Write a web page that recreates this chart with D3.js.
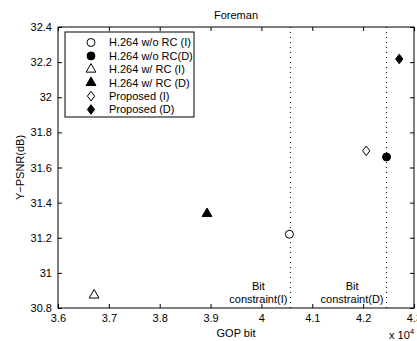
<!DOCTYPE html>
<html>
<head>
<script src="https://d3js.org/d3.v7.min.js"></script>
<style>
  body { margin: 0; background: #fff; }
  text { font-family: "Liberation Sans", Arial, sans-serif; fill: #000; }
</style>
</head>
<body>
<div id="chart"></div>
<script>
// series (x in units of 10^4 bits)
const seriesNames = ["H.264 w/o RC (I)", "H.264 w/o RC(D)", "H.264 w/ RC (I)", "H.264 w/ RC (D)", "Proposed (I)", "Proposed (D)"];
const gopBits = [4.055, 4.246, 3.671, 3.893, 4.206, 4.271];
const psnr = [31.22, 31.66, 30.873, 31.337, 31.695, 32.218];
const shapes = ["circle", "circle", "triangle", "triangle", "diamond", "diamond"];
const filled = [false, true, false, true, false, true];

const constraintX = [4.057, 4.246];
const constraintLabels = ["constraint(I)", "constraint(D)"];

const xTicks = [3.6, 3.7, 3.8, 3.9, 4.0, 4.1, 4.2, 4.3];
const yTicks = [30.8, 31, 31.2, 31.4, 31.6, 31.8, 32, 32.2, 32.4];

const W = 417, H = 341;
const margin = { top: 27, right: 3, bottom: 33, left: 58 };
const width = W - margin.left - margin.right,
      height = H - margin.top - margin.bottom;

const svg = d3.select("#chart").append("svg")
  .attr("width", W).attr("height", H);

const g = svg.append("g")
  .attr("transform", "translate(" + margin.left + "," + margin.top + ")");

const x = d3.scaleLinear().domain([3.6, 4.3]).range([0, width]);
const y = d3.scaleLinear().domain([30.8, 32.4]).range([height, 0]);

const fmtX = d => d3.format(".1f")(d).replace(/\.0$/, "");
const fmtY = d => String(+d.toFixed(1));

// axes with inward ticks on all four sides
const tk = 4;
g.append("g").attr("transform", "translate(0," + height + ")")
  .call(d3.axisBottom(x).tickValues(xTicks).tickFormat(fmtX).tickSizeInner(-tk).tickSizeOuter(0).tickPadding(6))
  .call(a => a.select(".domain").remove());
g.append("g")
  .call(d3.axisTop(x).tickValues(xTicks).tickFormat("").tickSizeInner(-tk).tickSizeOuter(0))
  .call(a => a.select(".domain").remove());
g.append("g")
  .call(d3.axisLeft(y).tickValues(yTicks).tickFormat(fmtY).tickSizeInner(-tk).tickSizeOuter(0).tickPadding(6))
  .call(a => a.select(".domain").remove());
g.append("g").attr("transform", "translate(" + width + ",0)")
  .call(d3.axisRight(y).tickValues(yTicks).tickFormat("").tickSizeInner(-tk).tickSizeOuter(0))
  .call(a => a.select(".domain").remove());

g.selectAll(".tick text").style("font-size", "11px");
g.selectAll(".tick line").attr("stroke", "#000");

g.append("rect").attr("width", width).attr("height", height)
  .attr("fill", "none").attr("stroke", "#000").attr("stroke-width", 1);

// bit constraint lines
g.selectAll(".cline").data(constraintX).enter().append("line")
  .attr("x1", d => x(d)).attr("x2", d => x(d))
  .attr("y1", 0).attr("y2", height)
  .attr("stroke", "#000").attr("stroke-width", 1)
  .attr("stroke-dasharray", "1,4");

constraintX.forEach((cx, i) => {
  const right = x(cx) - 3;
  const lab = g.append("text").attr("text-anchor", "end").style("font-size", "11px")
    .attr("x", right).attr("y", height - 5).text(constraintLabels[i]);
  const w = lab.node().getComputedTextLength();
  g.append("text").attr("text-anchor", "middle").style("font-size", "11px")
    .attr("x", right - w / 2).attr("y", height - 18).text("Bit");
});

// markers
const diamondPath = "M0,-4.8L3.6,0L0,4.8L-3.6,0Z";
const sym = {
  circle: d3.symbol().type(d3.symbolCircle).size(50)(),
  triangle: d3.symbol().type(d3.symbolTriangle).size(42)(),
  diamond: diamondPath
};

function drawMarker(sel, i) {
  sel.append("path")
    .attr("d", sym[shapes[i]])
    .attr("fill", filled[i] ? "#000" : "#fff")
    .attr("stroke", "#000").attr("stroke-width", 1);
}

seriesNames.forEach((name, i) => {
  const m = g.append("g")
    .attr("transform", "translate(" + x(gopBits[i]) + "," + y(psnr[i]) + ")");
  drawMarker(m, i);
});

// legend
const leg = g.append("g").attr("transform", "translate(7,5)");
leg.append("rect").attr("width", 129).attr("height", 85)
  .attr("fill", "#fff").attr("stroke", "#000").attr("stroke-width", 1);
seriesNames.forEach((name, i) => {
  const row = leg.append("g").attr("transform", "translate(0," + (10.5 + i * 13.4) + ")");
  const m = row.append("g").attr("transform", "translate(26,0)");
  drawMarker(m, i);
  row.append("text").attr("x", 44).attr("dy", "0.35em")
    .style("font-size", "11px").text(name);
});

// titles
svg.append("text").attr("x", margin.left + width / 2).attr("y", 19)
  .attr("text-anchor", "middle").style("font-size", "11px").text("Foreman");
svg.append("text").attr("x", margin.left + width / 2).attr("y", 337)
  .attr("text-anchor", "middle").style("font-size", "11px").text("GOP bit");
svg.append("text")
  .attr("transform", "translate(24," + (margin.top + height / 2) + ") rotate(-90)")
  .attr("text-anchor", "middle").style("font-size", "11px").text("Y\u2212PSNR(dB)");
const ex = svg.append("text").attr("x", 389).attr("y", 339).style("font-size", "11px");
ex.append("tspan").text("x 10");
ex.append("tspan").attr("dy", -5).style("font-size", "8px").text("4");
</script>
</body>
</html>
